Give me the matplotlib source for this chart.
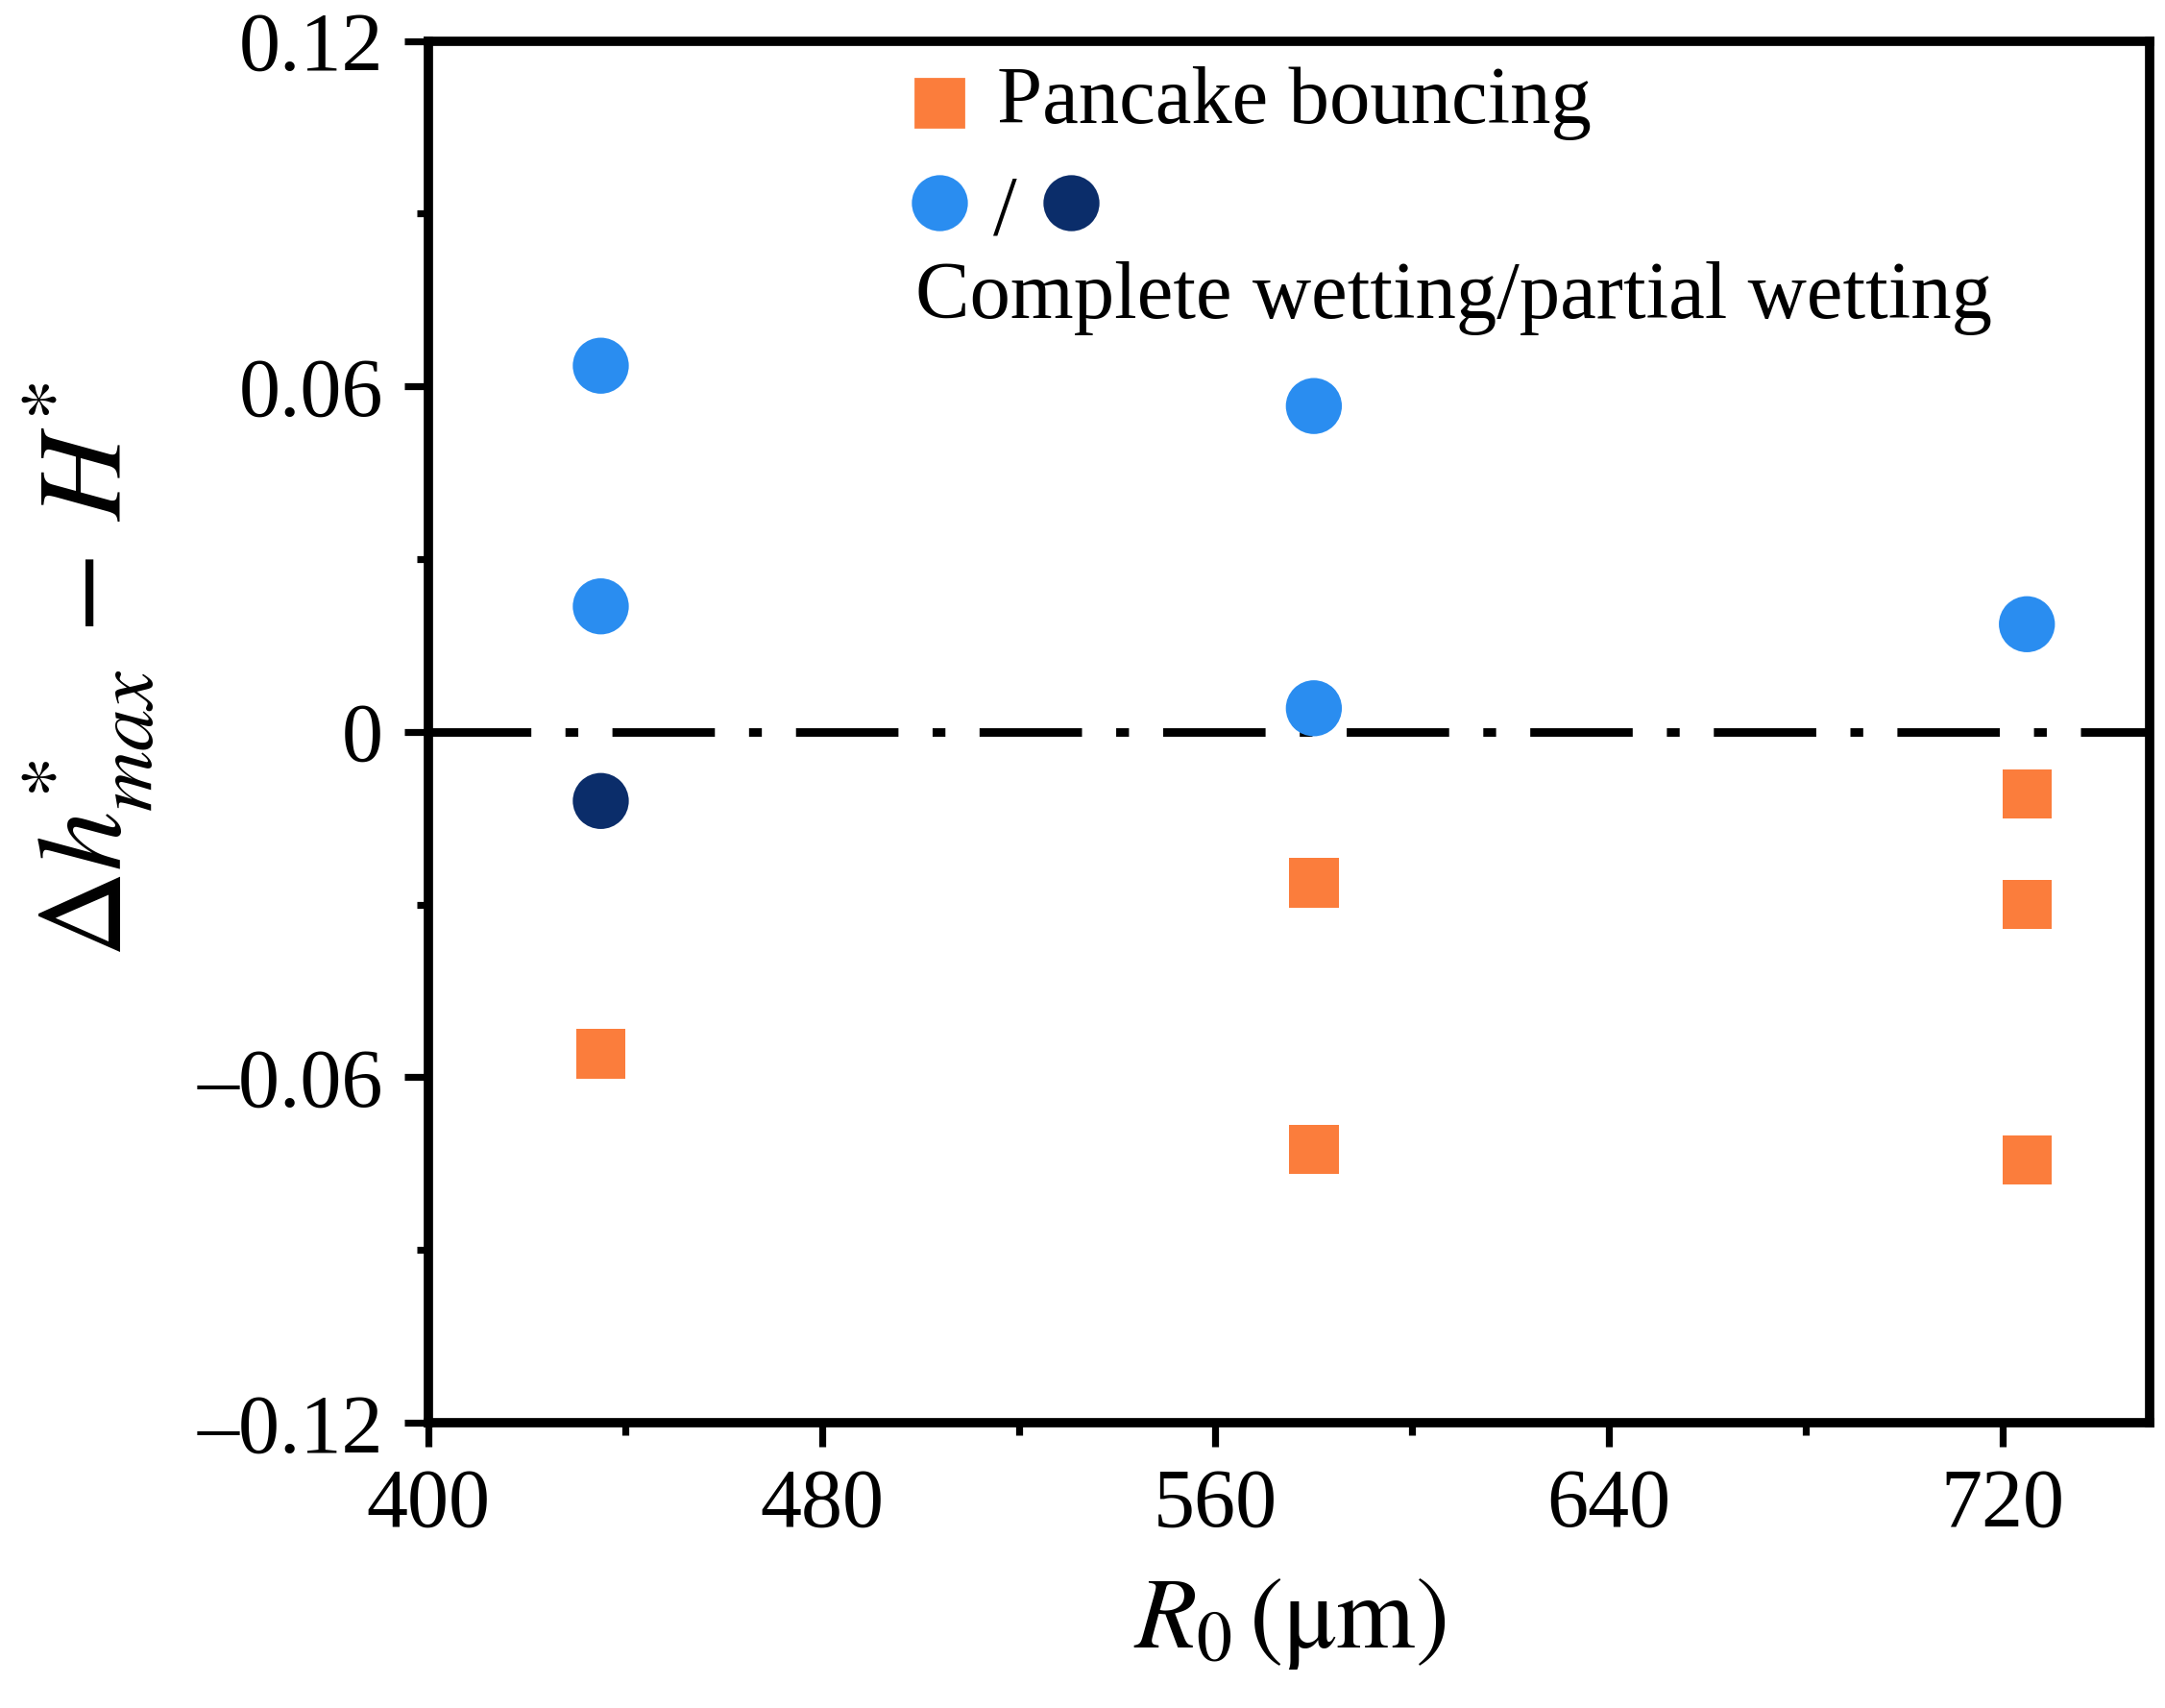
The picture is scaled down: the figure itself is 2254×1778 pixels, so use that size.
import matplotlib
matplotlib.use("Agg")
import matplotlib.pyplot as plt
from matplotlib.ticker import MultipleLocator, FuncFormatter

plt.rcParams['font.family'] = ['Liberation Serif', 'DejaVu Serif']
plt.rcParams['mathtext.fontset'] = 'stix'

# data
r0_complete = [435, 435, 580, 580, 725]
dh_complete = [0.0636, 0.0218, 0.0566, 0.0041, 0.0187]
r0_partial = [435]
dh_partial = [-0.012]
r0_pancake = [435, 580, 580, 725, 725, 725]
dh_pancake = [-0.0559, -0.0262, -0.0725, -0.0108, -0.030, -0.0744]

ORANGE = '#FB7D3C'
LIGHT = '#2A8DF0'
DARK = '#0B2D6A'

fig = plt.figure(figsize=(11.27, 8.89), dpi=200)
ax = fig.add_axes([0.198, 0.167, 0.795, 0.809])

ax.axhline(0, color='black', lw=3.2, dashes=(12, 4, 1.5, 4), zorder=1)

ax.scatter(r0_complete, dh_complete, s=21**2, marker='o', color=LIGHT,
           edgecolors='none', zorder=3)
ax.scatter(r0_partial, dh_partial, s=21**2, marker='o', color=DARK,
           edgecolors='none', zorder=3)
ax.scatter(r0_pancake, dh_pancake, s=18.5**2, marker='s', color=ORANGE,
           edgecolors='none', zorder=3)

ax.set_xlim(400, 750)
ax.set_ylim(-0.12, 0.12)
ax.xaxis.set_major_locator(MultipleLocator(80))
ax.xaxis.set_minor_locator(MultipleLocator(40))
ax.yaxis.set_major_locator(MultipleLocator(0.06))
ax.yaxis.set_minor_locator(MultipleLocator(0.03))


def yfmt(v, pos):
    if abs(v) < 1e-9:
        return '0'
    s = f'{v:.2f}'
    return s.replace('-', '\u2013')


ax.yaxis.set_major_formatter(FuncFormatter(yfmt))

for sp in ax.spines.values():
    sp.set_linewidth(3.5)
ax.tick_params(which='major', direction='out', length=9, width=2.6,
               labelsize=31, pad=8)
ax.tick_params(which='minor', direction='out', length=4.5, width=2.6)

ax.set_xlabel(r'$R_0\,(\mathrm{\mu m})$', fontsize=38, labelpad=12)
ax.set_ylabel(r'$\Delta h^{*}_{max}\,-\,H^{*}$', fontsize=45)
ax.yaxis.set_label_coords(-0.158, 0.545)

# legend, built by hand
ax.plot([0.297], [0.955], marker='s', ms=18, color=ORANGE, ls='none',
        transform=ax.transAxes, clip_on=False)
ax.text(0.330, 0.955, 'Pancake bouncing', transform=ax.transAxes,
        fontsize=30.5, va='center', ha='left')
ax.plot([0.297], [0.883], marker='o', ms=20, color=LIGHT, ls='none',
        transform=ax.transAxes, clip_on=False)
ax.text(0.335, 0.875, '/', transform=ax.transAxes, fontsize=32,
        va='center', ha='center')
ax.plot([0.373], [0.883], marker='o', ms=20, color=DARK, ls='none',
        transform=ax.transAxes, clip_on=False)
ax.text(0.283, 0.814, 'Complete wetting/partial wetting',
        transform=ax.transAxes, fontsize=30.5, va='center', ha='left')

fig.savefig('out.png', dpi=200)
